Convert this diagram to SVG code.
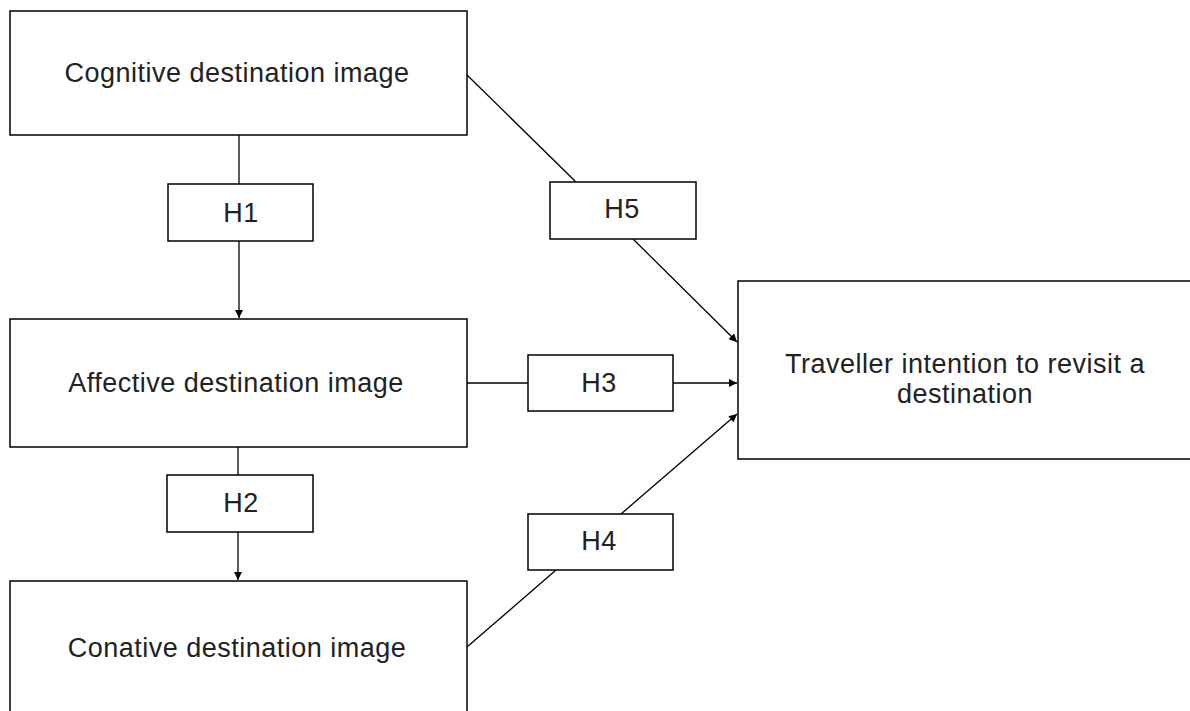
<svg xmlns="http://www.w3.org/2000/svg" width="1190" height="711" viewBox="0 0 1190 711">
<style>
.box{fill:#fff;stroke:#000;stroke-width:1.5}
.t{font-family:"Liberation Sans",Arial,sans-serif;font-size:27px;letter-spacing:0.5px;fill:#222;text-anchor:middle}
.c{stroke:#000;stroke-width:1.3;fill:none}
</style>
<defs>
<marker id="ah" viewBox="0 0 10 10" refX="10" refY="5" markerWidth="9" markerHeight="8" orient="auto" markerUnits="userSpaceOnUse">
<path d="M0,0 L10,5 L0,10 Z" fill="#000"/>
</marker>
</defs>
<g id="connectors">
<line class="c" x1="239" y1="135" x2="239" y2="184"/>
<line class="c" x1="239" y1="241" x2="239" y2="318" marker-end="url(#ah)"/>
<line class="c" x1="238" y1="447" x2="238" y2="475"/>
<line class="c" x1="238" y1="532" x2="238" y2="580" marker-end="url(#ah)"/>
<line class="c" x1="467" y1="75" x2="576" y2="182"/>
<line class="c" x1="633" y1="239" x2="737" y2="342" marker-end="url(#ah)"/>
<line class="c" x1="467" y1="383" x2="528" y2="383"/>
<line class="c" x1="673" y1="383" x2="737" y2="383" marker-end="url(#ah)"/>
<line class="c" x1="467" y1="647" x2="556" y2="570"/>
<line class="c" x1="621" y1="514" x2="737" y2="414" marker-end="url(#ah)"/>
</g>
<g id="cognitive"><rect class="box" x="10" y="11" width="457" height="124"/><text class="t" x="237" y="82">Cognitive destination image</text></g>
<g id="affective"><rect class="box" x="10" y="319" width="457" height="128"/><text class="t" x="236" y="392">Affective destination image</text></g>
<g id="conative"><rect class="box" x="10" y="581" width="457" height="150"/><text class="t" x="237" y="657">Conative destination image</text></g>
<g id="intention"><rect class="box" x="738" y="281" width="470" height="178"/><text class="t" x="965" y="373">Traveller intention to revisit a</text><text class="t" x="965" y="403">destination</text></g>
<g id="h1"><rect class="box" x="168" y="184" width="145" height="57"/><text class="t" x="241" y="222">H1</text></g>
<g id="h2"><rect class="box" x="167" y="475" width="146" height="57"/><text class="t" x="241" y="512">H2</text></g>
<g id="h3"><rect class="box" x="528" y="355" width="145" height="56"/><text class="t" x="599" y="392">H3</text></g>
<g id="h4"><rect class="box" x="528" y="514" width="145" height="56"/><text class="t" x="599" y="550">H4</text></g>
<g id="h5"><rect class="box" x="550" y="182" width="146" height="57"/><text class="t" x="622" y="218">H5</text></g>
</svg>
